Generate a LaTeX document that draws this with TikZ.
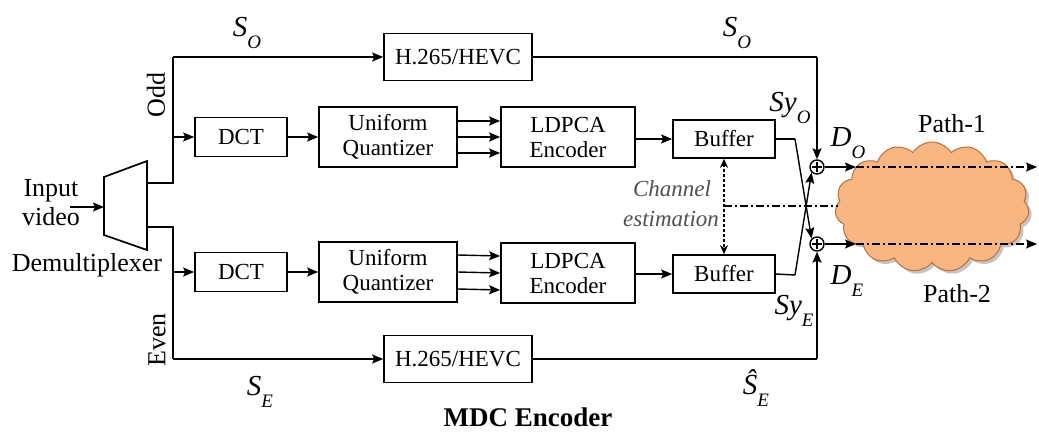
\documentclass[tikz,border=0pt]{standalone}
\usepackage{fontspec}
\setmainfont{Liberation Serif}
\newfontfamily\tnr{Liberation Serif}
\usetikzlibrary{arrows.meta,shapes.symbols,shadows,calc}
\definecolor{cloudfill}{RGB}{248,182,130}
\definecolor{clouddraw}{RGB}{185,110,60}
\definecolor{chgray}{RGB}{80,80,80}
\newcommand{\mysub}[2]{#1\raisebox{-0.42em}{\fontsize{19}{19}\selectfont #2}}
\begin{document}
\begin{tikzpicture}[x=1pt,y=-1pt,
  blk/.style={draw,line width=1.7pt,inner sep=0pt,align=center,font=\tnr\fontsize{23}{25}\selectfont},
  ln/.style={line width=1.4pt},
  arr/.style={ln,-{Stealth[length=11pt,width=9pt,inset=2pt]}},
  dd/.style={line width=1.4pt,dash pattern=on 8pt off 3pt on 2pt off 3pt},
  lbl/.style={font=\tnr\fontsize{26}{29}\selectfont,inner sep=0pt,align=center},
  sym/.style={font=\tnr\fontsize{29}{29}\selectfont\itshape,inner sep=0pt},
  adder/.style={draw,circle,line width=1.4pt,minimum size=14pt,inner sep=0pt}
]
\useasboundingbox (0,0) rectangle (1039,432);

% blocks
\node[blk,minimum width=148pt,minimum height=47pt] (hevcT) at (458,57) {H.265/HEVC};
\node[blk,minimum width=148pt,minimum height=47pt] (hevcB) at (458,359) {H.265/HEVC};
\node[blk,minimum width=92pt,minimum height=39pt] (dctO) at (241,137) {DCT};
\node[blk,minimum width=92pt,minimum height=39pt] (dctE) at (241,272) {DCT};
\node[blk,minimum width=138pt,minimum height=60pt] (quO) at (388,137) {Uniform\\Quantizer};
\node[blk,minimum width=138pt,minimum height=60pt] (quE) at (388,272) {Uniform\\Quantizer};
\node[blk,minimum width=134pt,minimum height=60pt] (ldO) at (568,137) {LDPCA\\Encoder};
\node[blk,minimum width=134pt,minimum height=60pt] (ldE) at (568,273) {LDPCA\\Encoder};
\node[blk,minimum width=102pt,minimum height=38pt] (bufO) at (724,139) {Buffer};
\node[blk,minimum width=102pt,minimum height=38pt] (bufE) at (724,274) {Buffer};

% cloud
\node[cloud,cloud puffs=15,cloud puff arc=115,aspect=1.5,minimum width=194pt,minimum height=130pt,
      fill=cloudfill,draw=clouddraw,line width=1pt,
      drop shadow={shadow xshift=3pt,shadow yshift=-3pt,fill=black!45}] (cl) at (932,207) {};

% demultiplexer
\draw[line width=1.7pt] (104,177) -- (147,161) -- (147,250) -- (104,235) -- cycle;
\coordinate (demIn) at (104,207);
\coordinate (demO) at (147,183);
\coordinate (demE) at (147,227);
\coordinate (inp) at (70,207);
\draw[arr] (inp) -- (demIn);

\coordinate (jO) at (173,183);
\coordinate (tO) at (173,57);
\coordinate (bO) at (173,137);
\coordinate (jE) at (173,227);
\coordinate (tE) at (173,359);
\coordinate (bE) at (173,272);
\draw[ln] (demO) -- (jO) -- (tO);
\draw[ln] (demE) -- (jE) -- (tE);
\draw[arr] (tO) -- (hevcT.west);
\draw[arr] (tE) -- (hevcB.west);
\draw[arr] (bO) -- (dctO.west);
\draw[arr] (bE) -- (dctE.west);

% chains
\draw[arr] (dctO) -- (quO);
\draw[arr] (dctE) -- (quE);
\foreach \d in {-16,0,16}{
  \draw[arr] ($(quO.east)+(0,\d)$) -- ($(ldO.west)+(0,\d)$);
}
\foreach \d in {-17,0,17}{
  \draw[arr] ($(quE.east)+(0,\d)$) -- ($(ldE.west)+(0,\d)$);
}
\draw[arr] (ldO.east |- bufO.west) -- (bufO.west);
\draw[arr] (ldE.east |- bufE.west) -- (bufE.west);

% adders
\node[adder] (addO) at (817,167) {};
\node[adder] (addE) at (817,244) {};
\foreach \a in {addO,addE}{
  \draw[line width=1.2pt] ($(\a.north)+(0,3)$) -- ($(\a.south)+(0,-3)$);
  \draw[line width=1.2pt] ($(\a.west)+(3,0)$) -- ($(\a.east)+(-3,0)$);
}
\coordinate (rO) at (817,57);
\coordinate (rE) at (817,359);
\draw[ln] (hevcT.east) -- (rO);
\draw[arr] (rO) -- (addO.north);
\draw[ln] (hevcB.east) -- (rE);
\draw[arr] (rE) -- (addE.south);

% crossing buffer outputs
\coordinate (kO) at (795,139);
\coordinate (kE) at (795,275);
\draw[ln] (bufO.east) -- (kO);
\draw[arr] (kO) -- (addE.north west);
\draw[ln] (bufE.east) -- (kE);
\draw[arr] (kE) -- (addO.south west);

% outputs through the cloud
\coordinate (pO1) at (856,167);
\coordinate (pO2) at (1037,167);
\coordinate (pE1) at (856,244);
\coordinate (pE2) at (1037,244);
\draw[arr] (addO.east) -- (pO1);
\draw[arr] (addE.east) -- (pE1);
\draw[dd,-{Stealth[length=11pt,width=9pt,inset=2pt]}] (pO1) -- (pO2);
\draw[dd,-{Stealth[length=11pt,width=9pt,inset=2pt]}] (pE1) -- (pE2);

% channel estimation
\coordinate (chM) at (724,206);
\coordinate (chR) at (838,206);
\draw[line width=1.2pt,dash pattern=on 3pt off 2pt,{Stealth[length=9pt,width=8pt]}-{Stealth[length=9pt,width=8pt]}] (bufO.south) -- (bufE.north);
\draw[line width=1.2pt,dash pattern=on 8pt off 3pt on 2pt off 3pt] (chM) -- (chR);
\node[font=\tnr\fontsize{23}{25}\selectfont\itshape,text=chgray,inner sep=0pt] (chA) at (672,189) {Channel};
\node[font=\tnr\fontsize{23}{25}\selectfont\itshape,text=chgray,inner sep=0pt] (chB) at (671,219) {estimation};

% labels
\node[lbl] (inlbl) at (51,203) {Input\\video};
\node[lbl] (demlbl) at (87,265) {Demultiplexer};
\node[lbl,rotate=90] (oddlbl) at (156,95) {Odd};
\node[lbl,rotate=90] (evenlbl) at (157,340) {Even};
\node[sym] (so1) at (247,33) {\mysub{S}{O}};
\node[sym] (so2) at (737,33) {\mysub{S}{O}};
\node[sym] (se1) at (260,392) {\mysub{S}{E}};
\node[sym] (se2) at (756,388) {\mysub{\^{S}}{E}};
\node[sym] (syo) at (790,108) {\mysub{Sy}{O}};
\node[sym] (sye) at (794,311) {\mysub{Sy}{E}};
\node[sym] (do) at (848,143) {\mysub{D}{O}};
\node[sym] (de) at (847,281) {\mysub{D}{E}};
\node[lbl] (p1) at (952,124) {Path-1};
\node[lbl] (p2) at (957,294) {Path-2};
\node[font=\tnr\fontsize{27}{29}\selectfont\bfseries,inner sep=0pt] (mdc) at (528,417) {MDC Encoder};
\end{tikzpicture}
\end{document}
